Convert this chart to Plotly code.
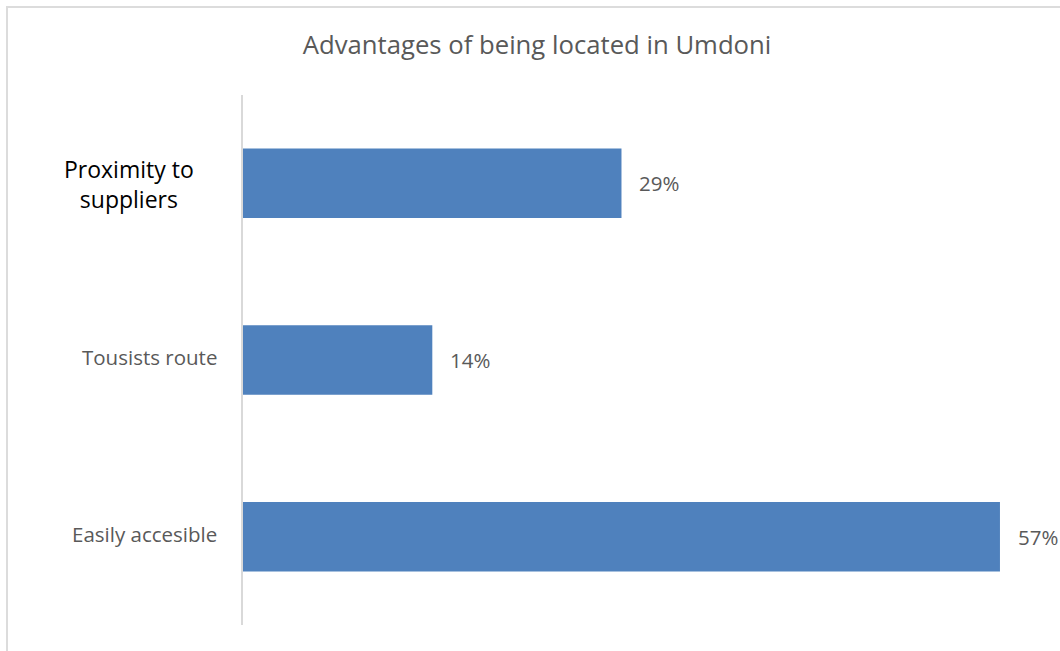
import plotly.graph_objects as go

# Data (top to bottom)
categories = ["Proximity to<br>suppliers", "Tousists route", "Easily accesible"]
values = [28.57, 14.29, 57.14]  # percent
value_labels = ["29%", "14%", "57%"]
title_text = "Advantages of being located in Umdoni"

W, H = 1060, 651
L, R, T, B = 243, 20, 95, 26
plot_w = W - L - R
plot_h = H - T - B
px_per_unit = 13.2475
x_max = plot_w / px_per_unit

BAR_COLOR = "#4F81BD"
TEXT_GRAY = "#595959"
FONT = "Open Sans"

fig = go.Figure()
fig.add_trace(go.Bar(
    x=values,
    y=categories,
    orientation="h",
    marker=dict(color=BAR_COLOR, line=dict(width=0)),
    hoverinfo="skip",
))

annotations = []
# category labels
label_styles = [
    dict(size=23, color="#000000", xshift=-47, yshift=-1),
    dict(size=20.5, color=TEXT_GRAY, xshift=-24, yshift=3),
    dict(size=20.5, color=TEXT_GRAY, xshift=-24, yshift=3),
]
for cat, st in zip(categories, label_styles):
    annotations.append(dict(
        x=0, xref="paper", y=cat, yref="y",
        text=cat, showarrow=False, xanchor="right", yanchor="middle",
        align="center", xshift=st["xshift"], yshift=st["yshift"],
        font=dict(family=FONT, size=st["size"], color=st["color"]),
    ))
# data labels
for cat, v, lab in zip(categories, values, value_labels):
    annotations.append(dict(
        x=v, xref="x", y=cat, yref="y",
        text=lab, showarrow=False, xanchor="left", yanchor="middle",
        xshift=16,
        font=dict(family=FONT, size=20.5, color=TEXT_GRAY),
    ))

# outer chart border (light gray), extends past right/bottom edges
def px_to_paper_x(px):
    return (px - L) / plot_w

def px_to_paper_y(py):
    return (H - B - py) / plot_h

shapes = [dict(
    type="rect", xref="paper", yref="paper",
    x0=px_to_paper_x(7), x1=px_to_paper_x(1075),
    y0=px_to_paper_y(670), y1=px_to_paper_y(7),
    line=dict(color="#DCDCDC", width=2), fillcolor="rgba(0,0,0,0)",
    layer="below",
)]

fig.update_layout(
    width=W, height=H,
    margin=dict(l=L, r=R, t=T, b=B),
    paper_bgcolor="white", plot_bgcolor="white",
    title=dict(text=title_text, x=537 / W, xanchor="center",
               y=1 - 45 / H, yanchor="middle",
               font=dict(family=FONT, size=25.7, color=TEXT_GRAY)),
    showlegend=False,
    bargap=0.607,
    xaxis=dict(range=[0, x_max], visible=False, fixedrange=True),
    yaxis=dict(autorange="reversed", showticklabels=False, ticks="",
               showline=True, linecolor="#D9D9D9", linewidth=1.5,
               showgrid=False, zeroline=False, fixedrange=True),
    annotations=annotations,
    shapes=shapes,
    font=dict(family=FONT),
)

fig.write_html(
    "out.html",
    config={"displayModeBar": False},
    post_script="document.body.style.margin='0';document.body.style.overflow='hidden';",
)
